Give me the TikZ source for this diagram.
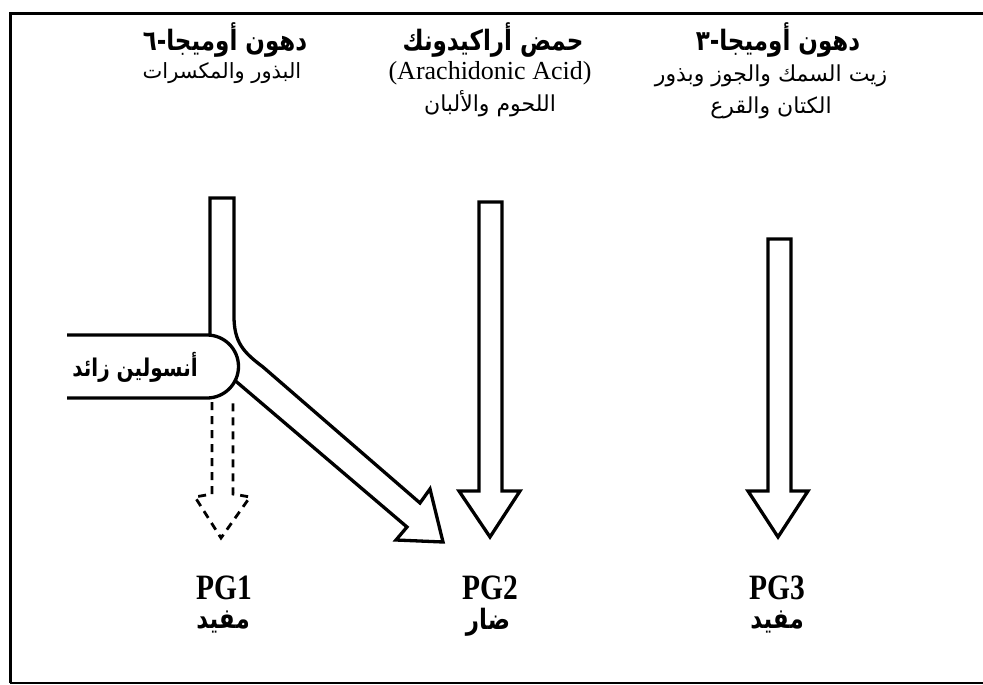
\documentclass[tikz,border=0pt]{standalone}
\usepackage{fontspec}
\usepackage{graphicx}
\setmainfont{Liberation Serif}
\newfontfamily\arabicfont[Script=Arabic]{DejaVu Sans}
\TeXXeTstate=1
\newcommand{\tallR}[1]{\scalebox{1}[1.22]{\beginR #1\endR}}
\newcommand{\tallL}[1]{\scalebox{0.95}[1.15]{#1}}
\begin{document}
\begin{tikzpicture}[x=1pt,y=-1pt,
  ar/.style={font=\arabicfont\fontsize{22}{26}\selectfont, inner sep=0pt},
  arb/.style={font=\arabicfont\bfseries\fontsize{23}{27}\selectfont, inner sep=0pt},
  ins/.style={font=\arabicfont\bfseries\fontsize{20}{24}\selectfont, inner sep=0pt},
  lat/.style={font=\fontsize{26}{30}\selectfont, inner sep=0pt},
  pg/.style={font=\bfseries\fontsize{31}{35}\selectfont, inner sep=0pt},
  shaft/.style={draw, line width=3.3pt, fill=white, line join=miter},
  dasharrow/.style={draw, line width=2.8pt, dash pattern=on 8pt off 6pt},
  framel/.style={line width=3pt}]
\useasboundingbox (0,0) rectangle (983,685);
% frame
\draw[framel] (10,683) -- (10,14) -- (983,14);
\draw[line width=2pt] (10,683) -- (983,683);

% top texts
\node[arb] (h6) at (225,40) {\tallR{دهون أوميجا-٦}};
\node[ar,font=\arabicfont\fontsize{21}{25}\selectfont]  (s6) at (222,73) {\beginR البذور والمكسرات\endR};
\node[arb] (ha) at (493,40) {\tallR{حمض أراكيدونك}};
\node[lat] (la) at (490,73) {(Arachidonic Acid)};
\node[ar]  (sa) at (490,104) {\beginR اللحوم والألبان\endR};
\node[arb] (h3) at (778,40) {\tallR{دهون أوميجا-٣}};
\node[ar]  (s3a) at (771,76) {\beginR زيت السمك والجوز وبذور\endR};
\node[ar]  (s3b) at (771,108) {\beginR الكتان والقرع\endR};

% left bent arrow (omega-6)
\path[shaft] (210,198) -- (234,198) -- (234,316)
  .. controls (234,342) and (243,352) .. (263,367)
  -- (420,503) -- (430,489) -- (443,542) -- (396,540) -- (407,527)
  -- (225,372) -- (210,372) -- cycle;
% insulin box
\fill[white] (67,335) -- (207,335) arc[start angle=-90, end angle=90, radius=31.5] -- (67,398) -- cycle;
\draw[line width=3.3pt] (67,335) -- (207,335) arc[start angle=-90, end angle=90, radius=31.5] -- (67,398);
\node[ins] (ins) at (135,367) {\tallR{أنسولين زائد}};

% dashed arrow
\draw[dasharrow] (212,402) -- (212,494) -- (195,497) -- (221,538) -- (250,497) -- (233,494) -- (233,402);

% middle arrow
\path[shaft] (479,202) -- (502,202) -- (502,491) -- (520,491) -- (490,537) -- (459,491) -- (479,491) -- cycle;
% right arrow
\path[shaft] (768,239) -- (791,239) -- (791,491) -- (808,491) -- (778,537) -- (748,491) -- (768,491) -- cycle;

% bottom labels
\node[pg] (pg1) at (224,588) {\tallL{PG1}};
\node[arb] (m1) at (223,622) {\tallR{مفيد}};
\node[pg] (pg2) at (490,588) {\tallL{PG2}};
\node[arb] (m2) at (488,622) {\tallR{ضار}};
\node[pg] (pg3) at (777,588) {\tallL{PG3}};
\node[arb] (m3) at (777,622) {\tallR{مفيد}};
\end{tikzpicture}
\end{document}
